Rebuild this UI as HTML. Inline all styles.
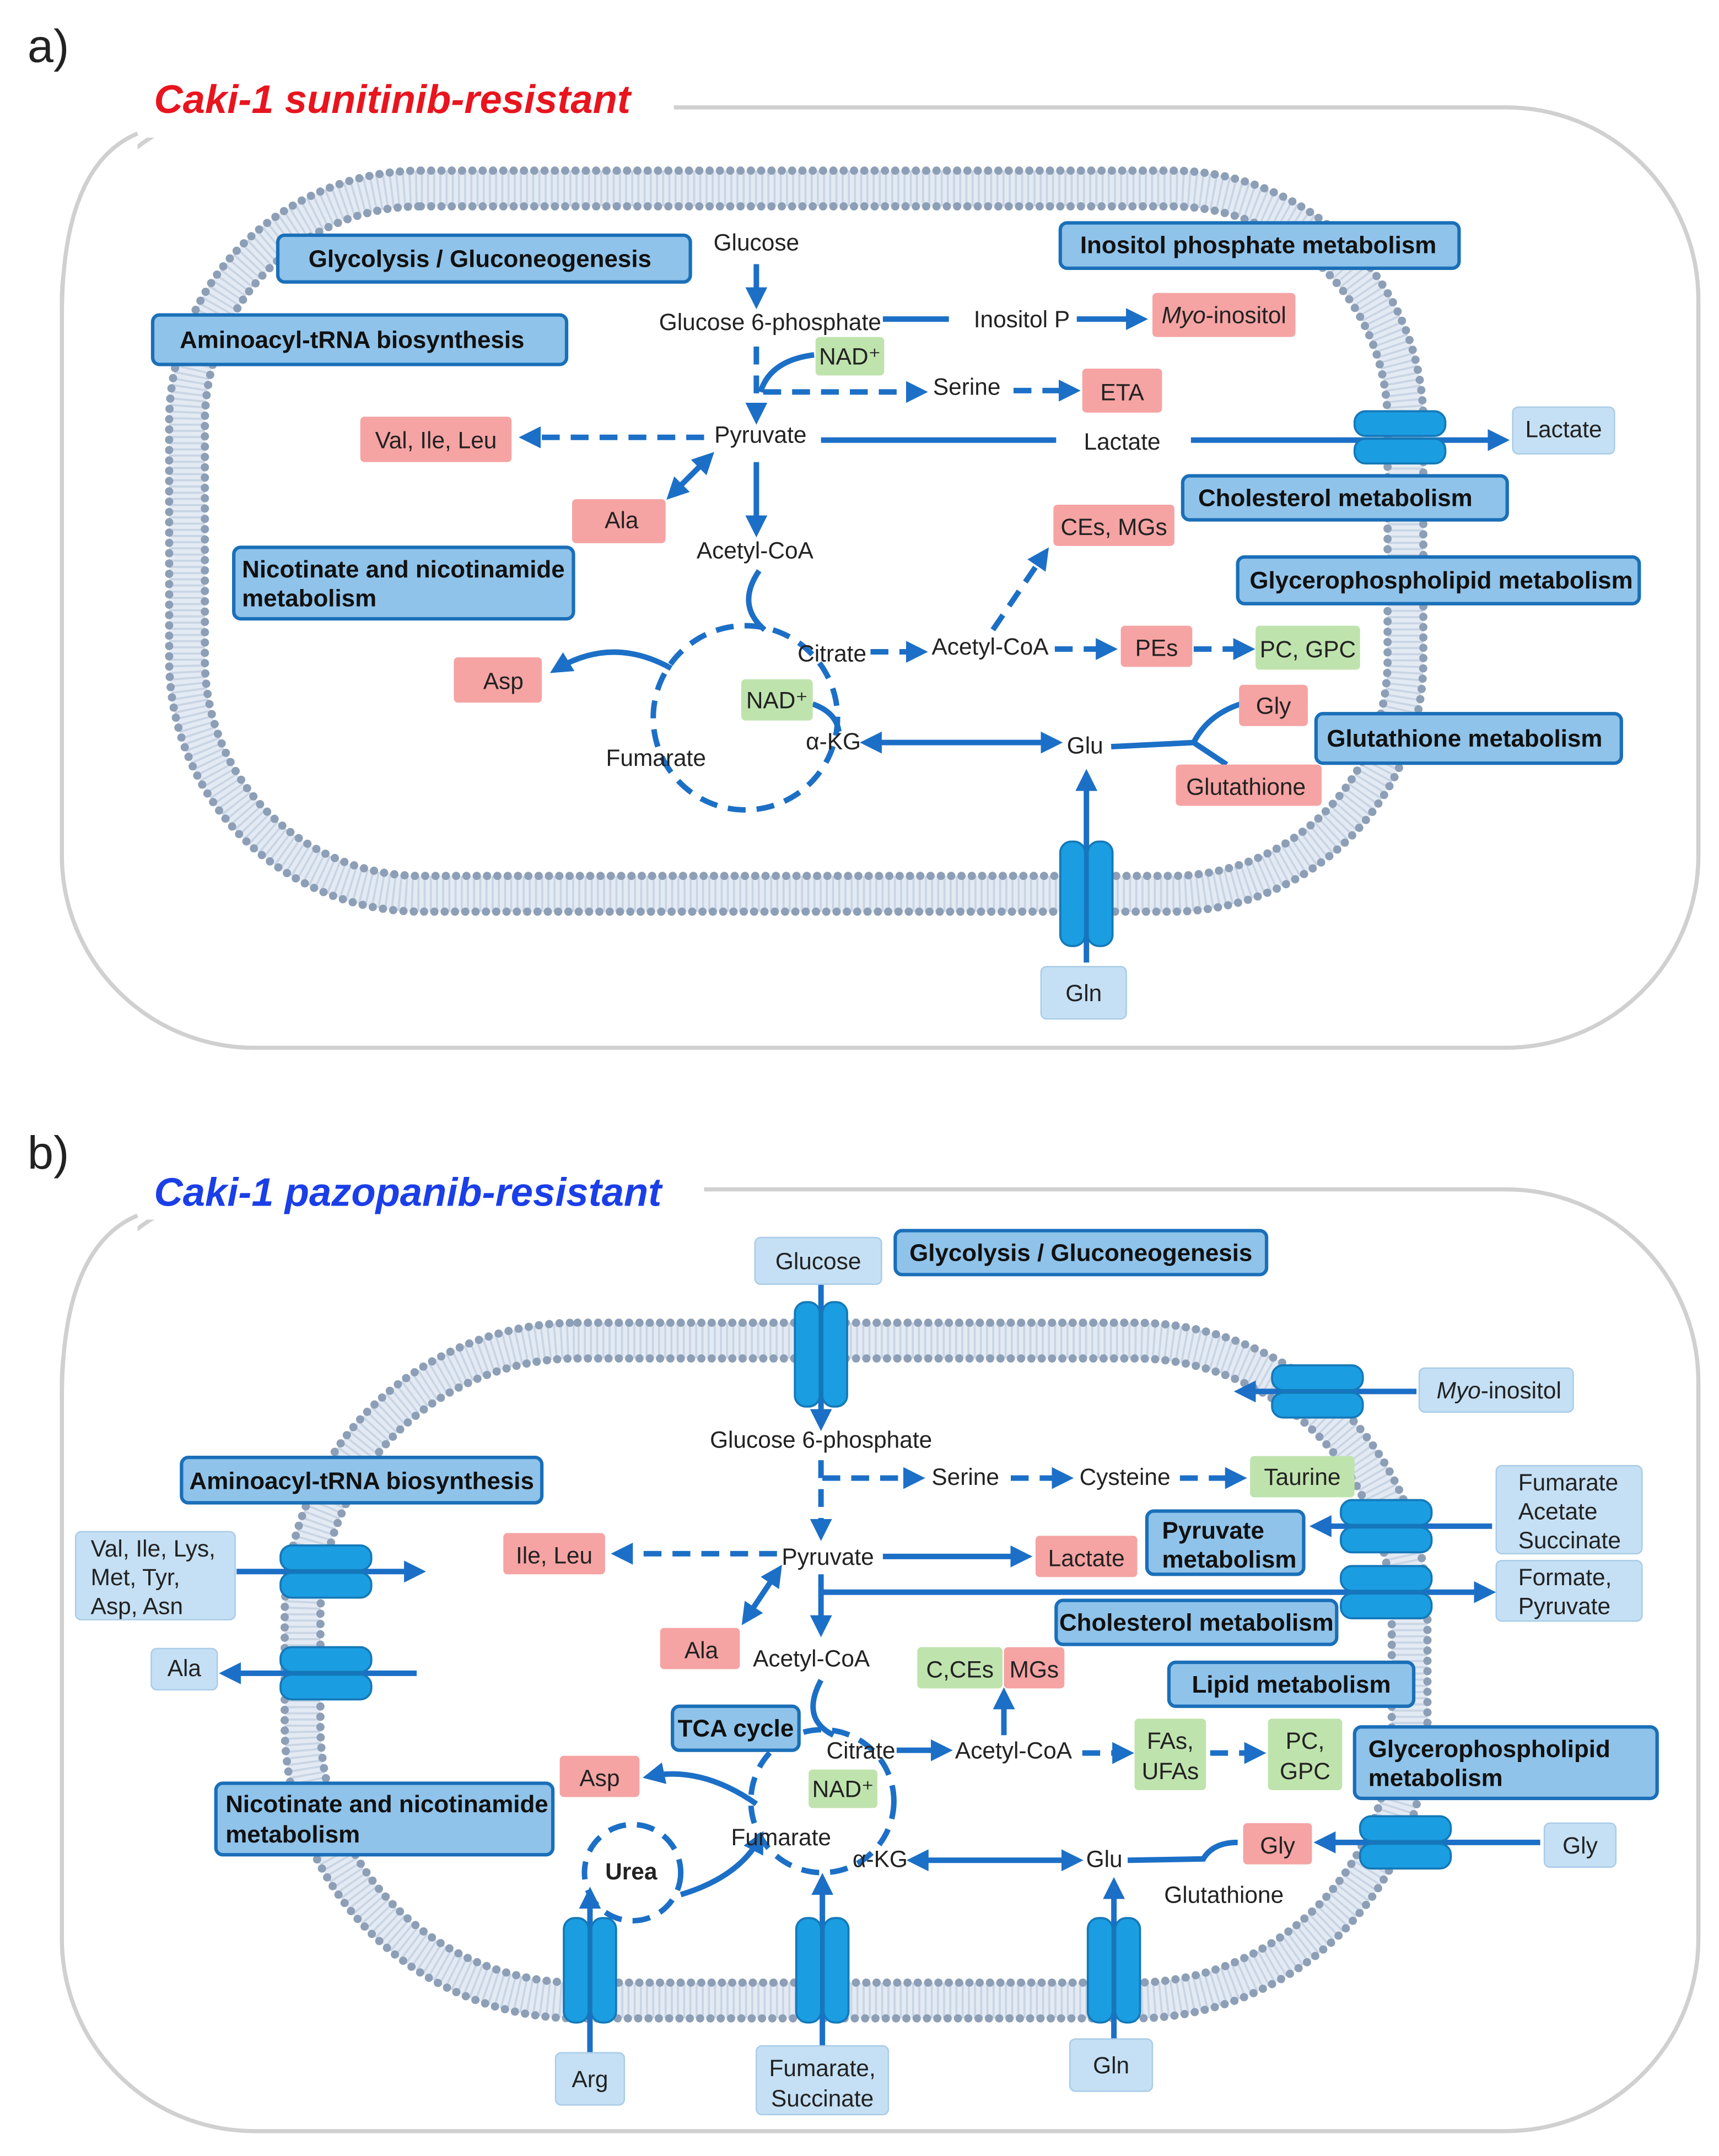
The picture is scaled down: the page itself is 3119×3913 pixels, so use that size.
<!DOCTYPE html>
<html><head><meta charset="utf-8"><style>
html,body{margin:0;padding:0;background:#fff}
svg{display:block}
text{font-family:"Liberation Sans",Arial,sans-serif;font-size:17px;fill:#222}
.pw{fill:#8fc3ea;stroke:#1a6fb8;stroke-width:2.5}
.pt{font-weight:bold;font-size:17.6px;fill:#111}
.r{fill:#f6a3a3}
.g{fill:#bfe3ad}
.lb{fill:#c5e0f4;stroke:#a9cce8;stroke-width:1}
.ar{stroke:#1c6fc6;stroke-width:4;fill:none}
.ds{stroke-dasharray:13 8}
.mem1{fill:none;stroke:#e3eaf3;stroke-width:26}
.mem2{fill:none;stroke:#c9d5e4;stroke-width:26;stroke-dasharray:1.5 3}
.dots{fill:none;stroke:#8d9fb6;stroke-width:6;stroke-linecap:round;stroke-dasharray:0 7.5}
.cell{fill:none;stroke:#d0d0d0;stroke-width:3}
</style></head><body>
<svg width="3119" height="3913" viewBox="0 0 1250 1568" xmlns="http://www.w3.org/2000/svg">
<defs>
<marker id="a" viewBox="0 0 10 10" refX="7" refY="5" markerWidth="4" markerHeight="4" orient="auto-start-reverse"><path d="M0,0L10,5L0,10z" fill="#1c6fc6"/></marker>
<g id="th"><rect x="-33" y="-19" width="66" height="18" rx="8" fill="#1b9de2" stroke="#1479b8" stroke-width="1.5"/><rect x="-33" y="1" width="66" height="18" rx="8" fill="#1b9de2" stroke="#1479b8" stroke-width="1.5"/></g>
<g id="tv"><rect x="-19" y="-38" width="18" height="76" rx="8" fill="#1b9de2" stroke="#1479b8" stroke-width="1.5"/><rect x="1" y="-38" width="18" height="76" rx="8" fill="#1b9de2" stroke="#1479b8" stroke-width="1.5"/></g>
</defs>
<rect width="1250" height="1568" fill="#fff"/>

<!-- ============ PANEL A ============ -->
<rect class="cell" x="45" y="78" width="1190" height="684" rx="140"/>
<rect x="40" y="60" width="450" height="40" fill="#fff"/>
<rect x="40" y="60" width="60" height="140" fill="#fff"/>
<path class="cell" d="M45,230 Q45,120 100,97"/>
<text x="20" y="45" style="font-size:34px">a)</text>
<text x="112" y="82" style="font-size:29px;font-weight:bold;font-style:italic;fill:#e8141e">Caki-1 sunitinib-resistant</text>

<rect class="mem1" x="136" y="137" width="886" height="513" rx="170"/>
<rect class="mem2" x="136" y="137" width="886" height="513" rx="170"/>
<rect class="dots" x="123" y="124" width="912" height="539" rx="183"/>
<rect class="dots" x="149" y="150" width="860" height="487" rx="157"/>

<line class="ar" x1="550" y1="192" x2="550" y2="220" marker-end="url(#a)"/>
<line class="ar" x1="642" y1="232" x2="690" y2="232"/>
<line class="ar" x1="783" y1="232" x2="830" y2="232" marker-end="url(#a)"/>
<line class="ar ds" x1="550" y1="252" x2="550" y2="304" marker-end="url(#a)"/>
<path class="ar" d="M592,258 Q560,262 553,285"/>
<line class="ar ds" x1="555" y1="285" x2="670" y2="285" marker-end="url(#a)"/>
<line class="ar ds" x1="737" y1="284" x2="781" y2="284" marker-end="url(#a)"/>
<line class="ar ds" x1="512" y1="318" x2="382" y2="318" marker-end="url(#a)"/>
<line class="ar" x1="597" y1="320" x2="768" y2="320"/>
<line class="ar" x1="866" y1="320" x2="1093" y2="320" marker-end="url(#a)"/>
<line class="ar" x1="516" y1="332" x2="488" y2="360" marker-start="url(#a)" marker-end="url(#a)"/>
<line class="ar" x1="550" y1="336" x2="550" y2="386" marker-end="url(#a)"/>
<path class="ar" d="M552,415 Q535,440 556,458"/>
<circle cx="542" cy="522" r="67" class="ar ds" stroke-width="4.5"/>
<line class="ar ds" x1="633" y1="474" x2="670" y2="474" marker-end="url(#a)"/>
<line class="ar ds" x1="722" y1="458" x2="760" y2="402" marker-end="url(#a)"/>
<line class="ar ds" x1="767" y1="472" x2="808" y2="472" marker-end="url(#a)"/>
<line class="ar ds" x1="868" y1="472" x2="908" y2="472" marker-end="url(#a)"/>
<path class="ar" d="M488,486 Q445,462 404,487" marker-end="url(#a)"/>
<line class="ar" x1="630" y1="540" x2="768" y2="540" marker-start="url(#a)" marker-end="url(#a)"/>
<path class="ar" d="M591,512 Q608,518 610,532"/>
<path class="ar" d="M808,543 L868,540 Q878,520 902,512 M868,540 Q880,548 892,556"/>
<line class="ar" x1="790" y1="700" x2="790" y2="564" marker-end="url(#a)"/>
<use href="#th" x="1018" y="318"/>
<use href="#tv" x="790" y="650"/>

<rect class="pw" x="202" y="171" width="300" height="34" rx="5"/><text class="pt" x="349" y="194" text-anchor="middle">Glycolysis  /  Gluconeogenesis</text>
<rect class="pw" x="111" y="229" width="301" height="36" rx="5"/><text class="pt" x="256" y="253" text-anchor="middle">Aminoacyl-tRNA  biosynthesis</text>
<rect class="pw" x="771" y="162" width="290" height="33" rx="5"/><text class="pt" x="915" y="184" text-anchor="middle">Inositol phosphate metabolism</text>
<rect class="pw" x="860" y="346" width="236" height="32" rx="5"/><text class="pt" x="971" y="368" text-anchor="middle">Cholesterol metabolism</text>
<rect class="pw" x="900" y="405" width="292" height="34" rx="5"/><text class="pt" x="1048" y="428" text-anchor="middle">Glycerophospholipid metabolism</text>
<rect class="pw" x="170" y="398" width="247" height="52" rx="5"/><text class="pt" x="176" y="420">Nicotinate and nicotinamide</text><text class="pt" x="176" y="441">metabolism</text>
<rect class="pw" x="957" y="519" width="222" height="36" rx="5"/><text class="pt" x="1065" y="543" text-anchor="middle">Glutathione metabolism</text>

<rect class="r" x="838" y="213" width="104" height="32" rx="3"/><text x="890" y="235" text-anchor="middle"><tspan font-style="italic">Myo</tspan>-inositol</text>
<rect class="g" x="593" y="245" width="50" height="28" rx="3"/><text x="618" y="265" text-anchor="middle">NAD⁺</text>
<rect class="r" x="787" y="268" width="58" height="32" rx="3"/><text x="816" y="291" text-anchor="middle">ETA</text>
<rect class="r" x="262" y="303" width="110" height="33" rx="3"/><text x="317" y="326" text-anchor="middle">Val, Ile, Leu</text>
<rect class="r" x="416" y="363" width="68" height="32" rx="3"/><text x="452" y="384" text-anchor="middle">Ala</text>
<rect class="r" x="766" y="367" width="88" height="30" rx="3"/><text x="810" y="389" text-anchor="middle">CEs, MGs</text>
<rect class="r" x="815" y="455" width="52" height="30" rx="3"/><text x="841" y="477" text-anchor="middle">PEs</text>
<rect class="g" x="913" y="455" width="76" height="32" rx="3"/><text x="951" y="478" text-anchor="middle">PC, GPC</text>
<rect class="r" x="330" y="478" width="64" height="33" rx="3"/><text x="366" y="501" text-anchor="middle">Asp</text>
<rect class="g" x="539" y="494" width="52" height="30" rx="3"/><text x="565" y="515" text-anchor="middle">NAD⁺</text>
<rect class="r" x="901" y="498" width="50" height="30" rx="3"/><text x="926" y="519" text-anchor="middle">Gly</text>
<rect class="r" x="855" y="556" width="106" height="30" rx="3"/><text x="906" y="578" text-anchor="middle">Glutathione</text>
<rect class="lb" x="1100" y="296" width="74" height="34" rx="4"/><text x="1137" y="318" text-anchor="middle">Lactate</text>
<rect class="lb" x="757" y="703" width="62" height="38" rx="4"/><text x="788" y="728" text-anchor="middle">Gln</text>

<text x="550" y="182" text-anchor="middle">Glucose</text>
<text x="560" y="240" text-anchor="middle">Glucose 6-phosphate</text>
<text x="743" y="238" text-anchor="middle">Inositol P</text>
<text x="703" y="287" text-anchor="middle">Serine</text>
<text x="553" y="322" text-anchor="middle">Pyruvate</text>
<text x="816" y="327" text-anchor="middle">Lactate</text>
<text x="549" y="406" text-anchor="middle">Acetyl-CoA</text>
<text x="605" y="481" text-anchor="middle">Citrate</text>
<text x="720" y="476" text-anchor="middle">Acetyl-CoA</text>
<text x="477" y="557" text-anchor="middle">Fumarate</text>
<text x="606" y="545" text-anchor="middle">α-KG</text>
<text x="789" y="548" text-anchor="middle">Glu</text>

<!-- ============ PANEL B ============ -->
<rect class="cell" x="45" y="865" width="1190" height="685" rx="140"/>
<rect x="40" y="857" width="472" height="30" fill="#fff"/>
<rect x="40" y="857" width="60" height="130" fill="#fff"/>
<path class="cell" d="M45,1017 Q45,907 100,884"/>
<text x="20" y="850" style="font-size:34px">b)</text>
<text x="112" y="877" style="font-size:29px;font-weight:bold;font-style:italic;fill:#1a3ee8">Caki-1 pazopanib-resistant</text>

<rect class="mem1" x="220" y="975" width="805" height="480" rx="200"/>
<rect class="mem2" x="220" y="975" width="805" height="480" rx="200"/>
<rect class="dots" x="207" y="962" width="831" height="506" rx="213"/>
<rect class="dots" x="233" y="988" width="779" height="454" rx="187"/>

<line class="ar" x1="597" y1="934" x2="597" y2="1036" marker-end="url(#a)"/>
<line class="ar ds" x1="597" y1="1062" x2="597" y2="1116" marker-end="url(#a)"/>
<line class="ar ds" x1="598" y1="1075" x2="668" y2="1075" marker-end="url(#a)"/>
<line class="ar ds" x1="735" y1="1075" x2="776" y2="1075" marker-end="url(#a)"/>
<line class="ar ds" x1="858" y1="1075" x2="902" y2="1075" marker-end="url(#a)"/>
<line class="ar ds" x1="565" y1="1130" x2="449" y2="1130" marker-end="url(#a)"/>
<line class="ar" x1="642" y1="1132" x2="746" y2="1132" marker-end="url(#a)"/>
<line class="ar" x1="566" y1="1142" x2="542" y2="1178" marker-start="url(#a)" marker-end="url(#a)"/>
<line class="ar" x1="597" y1="1145" x2="597" y2="1186" marker-end="url(#a)"/>
<line class="ar" x1="597" y1="1158" x2="1083" y2="1158" marker-end="url(#a)"/>
<line class="ar" x1="1085" y1="1110" x2="957" y2="1110" marker-end="url(#a)"/>
<line class="ar" x1="1030" y1="1012" x2="902" y2="1012" marker-end="url(#a)"/>
<line class="ar" x1="172" y1="1143" x2="305" y2="1143" marker-end="url(#a)"/>
<line class="ar" x1="303" y1="1217" x2="164" y2="1217" marker-end="url(#a)"/>
<path class="ar" d="M597,1222 Q582,1250 606,1262"/>
<circle cx="598" cy="1310" r="52" class="ar ds" stroke-width="4.5"/>
<line class="ar" x1="652" y1="1273" x2="688" y2="1273" marker-end="url(#a)"/>
<line class="ar" x1="730" y1="1262" x2="730" y2="1232" marker-end="url(#a)"/>
<line class="ar ds" x1="787" y1="1275" x2="820" y2="1275" marker-end="url(#a)"/>
<line class="ar ds" x1="880" y1="1275" x2="916" y2="1275" marker-end="url(#a)"/>
<line class="ar" x1="664" y1="1353" x2="783" y2="1353" marker-start="url(#a)" marker-end="url(#a)"/>
<path class="ar" d="M820,1353 L875,1352 Q882,1340 900,1340"/>
<line class="ar" x1="1120" y1="1340" x2="960" y2="1340" marker-end="url(#a)"/>
<line class="ar" x1="810" y1="1483" x2="810" y2="1370" marker-end="url(#a)"/>
<line class="ar" x1="598" y1="1488" x2="598" y2="1367" marker-end="url(#a)"/>
<line class="ar" x1="429" y1="1493" x2="429" y2="1377" marker-end="url(#a)"/>
<circle cx="460" cy="1362" r="35" class="ar ds" stroke-width="4.5"/>
<path class="ar" d="M495,1378 Q538,1365 553,1336" marker-end="url(#a)"/>
<path class="ar" d="M550,1312 Q510,1284 472,1292" marker-end="url(#a)"/>
<use href="#tv" x="597" y="985"/>
<use href="#th" x="958" y="1012"/>
<use href="#th" x="1008" y="1110"/>
<use href="#th" x="1008" y="1158"/>
<use href="#th" x="237" y="1143"/>
<use href="#th" x="237" y="1217"/>
<use href="#th" x="1022" y="1340"/>
<use href="#tv" x="429" y="1433"/>
<use href="#tv" x="598" y="1433"/>
<use href="#tv" x="810" y="1433"/>

<rect class="pw" x="651" y="895" width="270" height="32" rx="5"/><text class="pt" x="786" y="917" text-anchor="middle">Glycolysis  /  Gluconeogenesis</text>
<rect class="pw" x="132" y="1060" width="262" height="33" rx="5"/><text class="pt" x="263" y="1083" text-anchor="middle">Aminoacyl-tRNA  biosynthesis</text>
<rect class="pw" x="834" y="1099" width="114" height="46" rx="5"/><text class="pt" x="845" y="1119">Pyruvate</text><text class="pt" x="845" y="1140">metabolism</text>
<rect class="pw" x="768" y="1164" width="204" height="32" rx="5"/><text class="pt" x="870" y="1186" text-anchor="middle">Cholesterol metabolism</text>
<rect class="pw" x="850" y="1209" width="178" height="32" rx="5"/><text class="pt" x="939" y="1231" text-anchor="middle">Lipid metabolism</text>
<rect class="pw" x="489" y="1241" width="92" height="32" rx="5"/><text class="pt" x="535" y="1263" text-anchor="middle">TCA cycle</text>
<rect class="pw" x="985" y="1256" width="220" height="52" rx="5"/><text class="pt" x="995" y="1278">Glycerophospholipid</text><text class="pt" x="995" y="1299">metabolism</text>
<rect class="pw" x="157" y="1297" width="245" height="52" rx="5"/><text class="pt" x="164" y="1318">Nicotinate and nicotinamide</text><text class="pt" x="164" y="1340">metabolism</text>

<rect class="lb" x="549" y="900" width="92" height="34" rx="4"/><text x="595" y="923" text-anchor="middle">Glucose</text>
<rect class="lb" x="1032" y="995" width="112" height="32" rx="4"/><text x="1090" y="1017" text-anchor="middle"><tspan font-style="italic">Myo</tspan>-inositol</text>
<rect class="g" x="909" y="1059" width="76" height="30" rx="3"/><text x="947" y="1080" text-anchor="middle">Taurine</text>
<rect class="lb" x="1088" y="1066" width="106" height="64" rx="4"/><text x="1104" y="1084">Fumarate</text><text x="1104" y="1105">Acetate</text><text x="1104" y="1126">Succinate</text>
<rect class="lb" x="1088" y="1135" width="106" height="44" rx="4"/><text x="1104" y="1153">Formate,</text><text x="1104" y="1174">Pyruvate</text>
<rect class="lb" x="55" y="1114" width="116" height="64" rx="4"/><text x="66" y="1132">Val, Ile, Lys,</text><text x="66" y="1153">Met, Tyr,</text><text x="66" y="1174">Asp, Asn</text>
<rect class="lb" x="110" y="1199" width="48" height="30" rx="4"/><text x="134" y="1219" text-anchor="middle">Ala</text>
<rect class="r" x="366" y="1115" width="74" height="30" rx="3"/><text x="403" y="1137" text-anchor="middle">Ile, Leu</text>
<rect class="r" x="753" y="1117" width="74" height="30" rx="3"/><text x="790" y="1139" text-anchor="middle">Lactate</text>
<rect class="r" x="480" y="1184" width="58" height="30" rx="3"/><text x="510" y="1206" text-anchor="middle">Ala</text>
<rect class="g" x="667" y="1198" width="62" height="30" rx="3"/><text x="698" y="1220" text-anchor="middle">C,CEs</text>
<rect class="r" x="730" y="1198" width="44" height="30" rx="3"/><text x="752" y="1220" text-anchor="middle">MGs</text>
<rect class="g" x="825" y="1250" width="52" height="52" rx="3"/><text x="851" y="1272" text-anchor="middle">FAs,</text><text x="851" y="1294" text-anchor="middle">UFAs</text>
<rect class="g" x="922" y="1250" width="54" height="52" rx="3"/><text x="949" y="1272" text-anchor="middle">PC,</text><text x="949" y="1294" text-anchor="middle">GPC</text>
<rect class="r" x="407" y="1277" width="58" height="30" rx="3"/><text x="436" y="1299" text-anchor="middle">Asp</text>
<rect class="g" x="588" y="1287" width="50" height="28" rx="3"/><text x="613" y="1307" text-anchor="middle">NAD⁺</text>
<rect class="r" x="904" y="1326" width="50" height="30" rx="3"/><text x="929" y="1348" text-anchor="middle">Gly</text>
<rect class="lb" x="1123" y="1326" width="52" height="32" rx="4"/><text x="1149" y="1348" text-anchor="middle">Gly</text>
<rect class="lb" x="404" y="1493" width="50" height="38" rx="4"/><text x="429" y="1518" text-anchor="middle">Arg</text>
<rect class="lb" x="550" y="1488" width="96" height="50" rx="4"/><text x="598" y="1510" text-anchor="middle">Fumarate,</text><text x="598" y="1532" text-anchor="middle">Succinate</text>
<rect class="lb" x="778" y="1483" width="60" height="38" rx="4"/><text x="808" y="1508" text-anchor="middle">Gln</text>

<text x="597" y="1053" text-anchor="middle">Glucose 6-phosphate</text>
<text x="702" y="1080" text-anchor="middle">Serine</text>
<text x="818" y="1080" text-anchor="middle">Cysteine</text>
<text x="602" y="1138" text-anchor="middle">Pyruvate</text>
<text x="590" y="1212" text-anchor="middle">Acetyl-CoA</text>
<text x="626" y="1279" text-anchor="middle">Citrate</text>
<text x="737" y="1279" text-anchor="middle">Acetyl-CoA</text>
<text x="568" y="1342" text-anchor="middle">Fumarate</text>
<text x="640" y="1358" text-anchor="middle">α-KG</text>
<text x="803" y="1358" text-anchor="middle">Glu</text>
<text x="890" y="1384" text-anchor="middle">Glutathione</text>
<text x="459" y="1367" text-anchor="middle" style="font-weight:bold">Urea</text>
</svg>
</body></html>
